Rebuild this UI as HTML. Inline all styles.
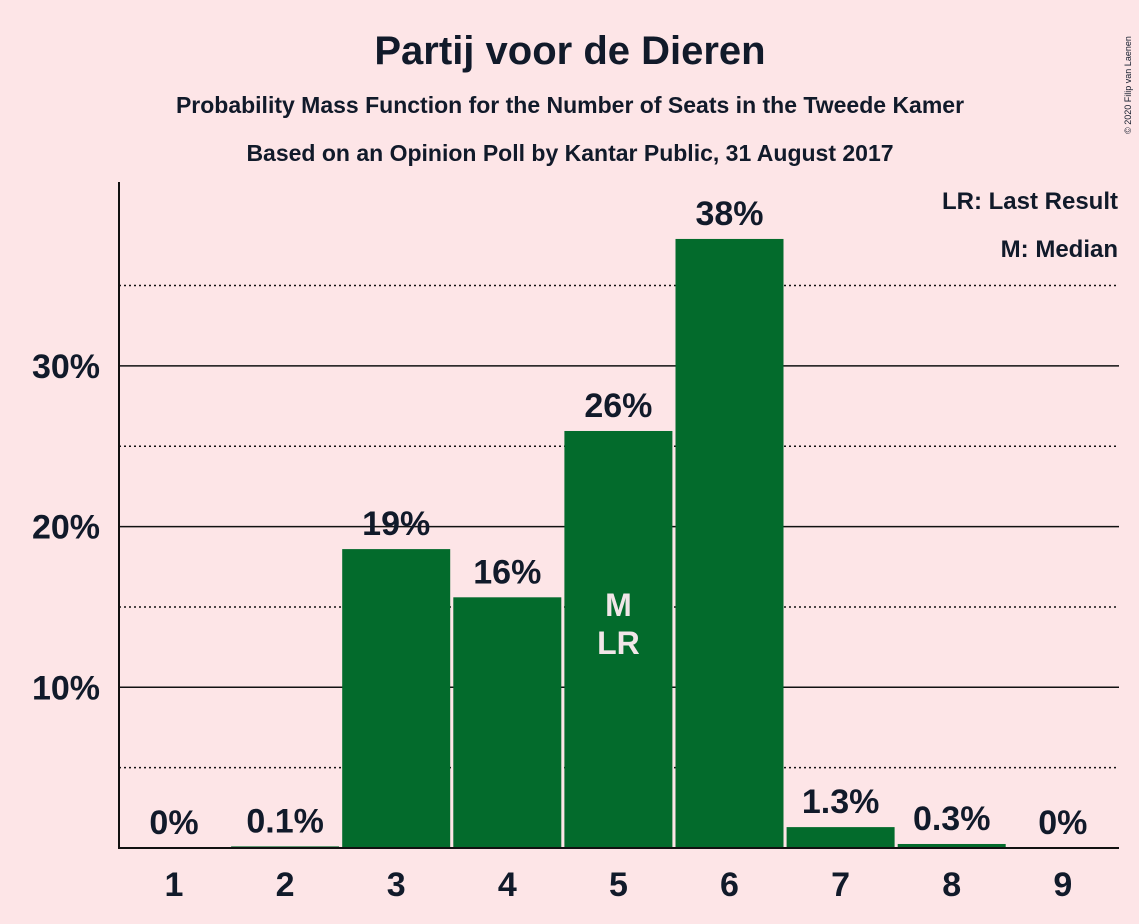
<!DOCTYPE html>
<html><head><meta charset="utf-8"><style>
body{margin:0;background:#fde5e7;font-family:"Liberation Sans",sans-serif;}
svg{display:block}
text{font-family:"Liberation Sans",sans-serif;font-weight:bold;fill:#111a2a}
</style></head><body>
<svg width="1139" height="924">
<rect width="1139" height="924" fill="#fde5e7"/>
<text x="570" y="64" text-anchor="middle" font-size="40">Partij voor de Dieren</text>
<text x="570" y="113" text-anchor="middle" font-size="23">Probability Mass Function for the Number of Seats in the Tweede Kamer</text>
<text x="570" y="161" text-anchor="middle" font-size="23">Based on an Opinion Poll by Kantar Public, 31 August 2017</text>
<text x="1131" y="85" font-size="9" font-weight="normal" transform="rotate(-90 1131 85)" text-anchor="middle" style="font-weight:normal">© 2020 Filip van Laenen</text>
<text x="1118" y="209" text-anchor="end" font-size="24">LR: Last Result</text>
<text x="1118" y="257" text-anchor="end" font-size="24">M: Median</text>
<g id="grid"></g><g id="bars"></g><g id="labels"></g>
<line x1="119" y1="182" x2="119" y2="849" stroke="#111" stroke-width="2"/>
<line x1="118" y1="848" x2="1119" y2="848" stroke="#111" stroke-width="2"/>
</svg>
<script>
const categories=[1,2,3,4,5,6,7,8,9];
const values=[0,0.1,18.6,15.6,25.95,37.9,1.3,0.25,0];
const valueLabels=["0%","0.1%","19%","16%","26%","38%","1.3%","0.3%","0%"];
const yTicks=[10,20,30];
const yMinor=[5,15,25,35];
const medianIndex=4, lastResultIndex=4;
const NS="http://www.w3.org/2000/svg";
const y=v=>848-v*16.07;
const xc=i=>174+i*111.1;
function mk(t,a,p){const e=document.createElementNS(NS,t);for(const k in a)e.setAttribute(k,a[k]);p.appendChild(e);return e;}
const grid=document.getElementById('grid'),bars=document.getElementById('bars'),labels=document.getElementById('labels');
yMinor.forEach(v=>{const l=mk('line',{x1:119,x2:1119,y1:y(v),y2:y(v),stroke:'#111','stroke-width':1.5,'stroke-dasharray':'2,3'},grid);

});
yTicks.forEach(v=>{const l=mk('line',{x1:119,x2:1119,y1:y(v),y2:y(v),stroke:'#111','stroke-width':1.5},grid);


const t=mk('text',{x:100,y:y(v)+12,'text-anchor':'end','font-size':34},labels);t.textContent=v+'%';

});
categories.forEach((c,i)=>{const h=values[i]*16.07;
const r=mk('rect',{x:xc(i)-54,y:848-h,width:108,height:h,fill:'#036b2c'},bars);


const t=mk('text',{x:xc(i),y:y(values[i])-14,'text-anchor':'middle','font-size':34},labels);t.textContent=valueLabels[i];


const xl=mk('text',{x:xc(i),y:896,'text-anchor':'middle','font-size':34},labels);xl.textContent=c;

});
const m=mk('text',{x:xc(medianIndex),y:616,'text-anchor':'middle','font-size':32,style:'fill:#f2e6e8'},labels);m.textContent='M';


const lr=mk('text',{x:xc(lastResultIndex),y:654,'text-anchor':'middle','font-size':32,style:'fill:#f2e6e8'},labels);lr.textContent='LR';


</script>
</body></html>
